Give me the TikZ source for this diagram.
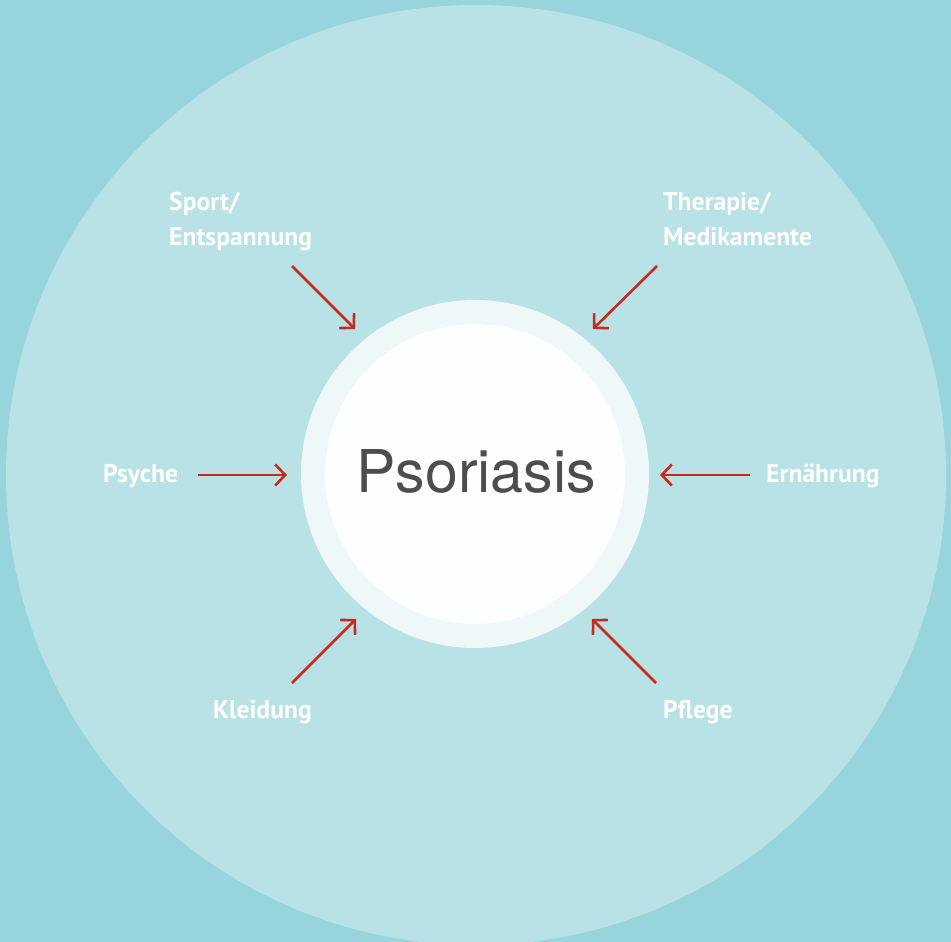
\documentclass[tikz,border=0pt]{standalone}
\usepackage{fontspec}
\setmainfont{PT Sans}
\newfontfamily\titlefont{TeX Gyre Heros}
\usepackage{tikz}
\usetikzlibrary{arrows.meta}

\definecolor{bgteal}{HTML}{98D4DC}
\definecolor{paleteal}{HTML}{B9E2E7}
\definecolor{ringwhite}{HTML}{EEF8F8}
\definecolor{corewhite}{HTML}{FDFEFE}
\definecolor{arrowred}{HTML}{C9281F}
\definecolor{titlegray}{HTML}{4D4D4D}

\tikzset{
  factor/.style={text=white, font=\fontsize{25.6}{35}\selectfont\bfseries, inner sep=0pt, align=left},
  influence/.style={draw=arrowred, line width=2.6pt, -{Straight Barb[length=10pt, width=21pt, line width=2.6pt]}},
}

\begin{document}
\begin{tikzpicture}[x=1pt, y=-1pt]
    \fill[bgteal] (0,0) rectangle (951,942);
    \useasboundingbox (0,0) rectangle (951,942);
    \begin{scope}
        \clip (0,0) rectangle (951,942);
        \fill[paleteal] (476,475) circle (470);
    \end{scope}
    \fill[ringwhite] (475,474) circle (174);
    \fill[corewhite] (475,474) circle (150);
    \node[text=titlegray, font=\titlefont\fontsize{59}{66}\selectfont] (psoriasis) at (476,471) {Psoriasis};

    % outer factors
    \node[factor, anchor=north west] (sport) at (169,192) {Sport/\\Entspannung};
    \node[factor, anchor=north west] (therapie) at (663,192) {Therapie/\\Medikamente};
    \node[factor, anchor=west] (psyche) at (103,476) {Psyche};
    \node[factor, anchor=west] (ernaehrung) at (766,476) {Ernährung};
    \node[factor, anchor=west] (kleidung) at (213,712) {Kleidung};
    \node[factor, anchor=west] (pflege) at (663,712) {Pflege};

    \coordinate (sportS) at (292,266);
    \coordinate (sportE) at (355,329);
    \coordinate (therapieS) at (657,266);
    \coordinate (therapieE) at (593,329);
    \coordinate (psycheS) at (198,475);
    \coordinate (psycheE) at (287,475);
    \coordinate (ernaehrungS) at (750,475);
    \coordinate (ernaehrungE) at (660,475);
    \coordinate (kleidungS) at (292,683);
    \coordinate (kleidungE) at (356,619);
    \coordinate (pflegeS) at (656,683);
    \coordinate (pflegeE) at (592,619);

    \foreach \f in {sport,therapie,psyche,ernaehrung,kleidung,pflege} {
        \draw[influence] (\f S) -- (\f E);
    }
\end{tikzpicture}
\end{document}
